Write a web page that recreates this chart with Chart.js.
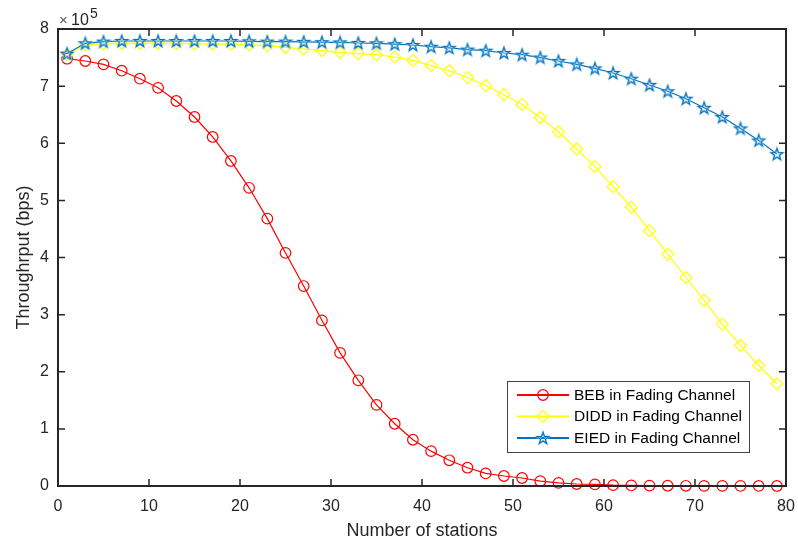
<!DOCTYPE html>
<html lang="en">
  <head>
    <meta charset="utf-8">
    <title>Throughput vs Number of stations</title>
    <script src="https://cdn.jsdelivr.net/npm/chart.js"></script>
    <style>
      html, body {
        margin: 0;
        padding: 0;
        background: #ffffff;
      }
      #chart-container {
        width: 798px;
        height: 542px;
      }
    </style>
  </head>
  <body>
    <div id="chart-container">
      <canvas id="myChart" width="798" height="542"></canvas>
    </div>

  <script>
      // x values (number of stations)
      const stations = [1, 3, 5, 7, 9, 11, 13, 15, 17, 19, 21, 23, 25, 27, 29, 31, 33, 35, 37, 39,
                        41, 43, 45, 47, 49, 51, 53, 55, 57, 59, 61, 63, 65, 67, 69, 71, 73, 75, 77, 79];

      // throughput in bps
      const beb = [748000, 744000, 738000, 727000, 713000, 697000, 674000, 646000, 611000, 569000,
                   522000, 468000, 408000, 350000, 290000, 233000, 185000, 142000, 109000, 81000,
                   61000, 45000, 32000, 22000, 17500, 14000, 8500, 5500, 3500, 2800,
                   1500, 1000, 700, 500, 350, 250, 180, 120, 90, 60];
      const didd = [756000, 772000, 774000, 775000, 775000, 775000, 775000, 774000, 773500, 773500,
                    772000, 771000, 768000, 765000, 762000, 759000, 757000, 755000, 751000, 745000,
                    736000, 727000, 715000, 701000, 685000, 668000, 645000, 620000, 590000, 559000,
                    524000, 488000, 447000, 406000, 365000, 325000, 283000, 246000, 211000, 179000];
      const eied = [757000, 775000, 778000, 779000, 779000, 779000, 779000, 779000, 779000, 779000,
                    778500, 778000, 778000, 777500, 777000, 776500, 775500, 775000, 773500, 772000,
                    769000, 767000, 764000, 762000, 758000, 755000, 750000, 744000, 738000, 731000,
                    723000, 713000, 702000, 691000, 678000, 662000, 646000, 626000, 605000, 581000];

      const seriesNames = ['BEB in Fading Channel', 'DIDD in Fading Channel', 'EIED in Fading Channel'];
      const xTicks = [0, 10, 20, 30, 40, 50, 60, 70, 80];
      const yTicks = [0, 1, 2, 3, 4, 5, 6, 7, 8]; // x 10^5

      const FONT = "'Liberation Sans', Arial, Helvetica, sans-serif";
      const AXIS = '#262626';

      // matlab-like pentagram marker
      function makeStar(color) {
          const c = document.createElement('canvas');
          c.width = 16;
          c.height = 16;
          const g = c.getContext('2d');
          g.beginPath();
          for (let i = 0; i < 10; i++) {
              const r = i % 2 ? 2.5 : 6.2;
              const a = -Math.PI / 2 + i * Math.PI / 5;
              g.lineTo(8 + r * Math.cos(a), 8.5 + r * Math.sin(a));
          }
          g.closePath();
          g.strokeStyle = '#a9d2ee';
          g.lineWidth = 2;
          g.stroke();
          g.strokeStyle = color;
          g.lineWidth = 1.1;
          g.stroke();
          return c;
      }
      const starImg = makeStar('#0072BD');

      function toPoints(ys) {
          return stations.map((x, i) => ({ x: x, y: ys[i] }));
      }

      const datasets = [
          {
              label: seriesNames[0],
              data: toPoints(beb),
              borderColor: '#FF0000',
              backgroundColor: 'rgba(0,0,0,0)',
              borderWidth: 1.2,
              pointStyle: 'circle',
              pointRadius: 5.3,
              pointBorderWidth: 1.2,
              order: 2
          },
          {
              label: seriesNames[1],
              data: toPoints(didd),
              borderColor: '#FFFF00',
              backgroundColor: 'rgba(0,0,0,0)',
              borderWidth: 1.2,
              pointStyle: 'rectRot',
              pointRadius: 6,
              pointBorderWidth: 1.2,
              order: 1
          },
          {
              label: seriesNames[2],
              data: toPoints(eied),
              borderColor: '#0072BD',
              backgroundColor: 'rgba(0,0,0,0)',
              borderWidth: 1.2,
              pointStyle: starImg,
              pointRadius: 6,
              order: 0
          }
      ];
      datasets.forEach(d => { d.clip = false; d.tension = 0; });

      // box, inward ticks, exponent and legend (matlab style)
      const matlabDecor = {
          id: 'matlabDecor',
          afterDraw(chart) {
              const c = chart.ctx;
              const a = chart.chartArea;
              const xs = chart.scales.x;
              const ys = chart.scales.y;
              const tl = 7;
              c.save();
              c.strokeStyle = AXIS;
              c.lineWidth = 1.5;
              c.beginPath();
              xTicks.forEach(v => {
                  const px = xs.getPixelForValue(v);
                  c.moveTo(px, a.bottom); c.lineTo(px, a.bottom - tl);
                  c.moveTo(px, a.top); c.lineTo(px, a.top + tl);
              });
              yTicks.forEach(v => {
                  const py = ys.getPixelForValue(v * 100000);
                  c.moveTo(a.left, py); c.lineTo(a.left + tl, py);
                  c.moveTo(a.right, py); c.lineTo(a.right - tl, py);
              });
              c.stroke();
              c.lineWidth = 2;
              c.strokeRect(a.left, a.top, a.right - a.left, a.bottom - a.top);

              // exponent label
              c.textBaseline = 'alphabetic';
              c.textAlign = 'left';
              c.font = '15px ' + FONT;
              c.fillStyle = '#555';
              c.fillText('\u00d7', a.left + 1, 25);
              c.fillStyle = AXIS;
              c.font = '16px ' + FONT;
              c.fillText('10', a.left + 13, 25);
              c.font = '14px ' + FONT;
              c.fillText('5', a.left + 32, 18);

              // legend
              const lx = 507, ly = 381, lw = 242, lh = 71;
              c.fillStyle = '#ffffff';
              c.fillRect(lx, ly, lw, lh);
              c.strokeStyle = '#444';
              c.lineWidth = 1;
              c.strokeRect(lx + 0.5, ly + 0.5, lw, lh);
              const rows = [395, 416.5, 438];
              chart.data.datasets.forEach((d, i) => {
                  const y = rows[i];
                  c.strokeStyle = d.borderColor;
                  c.lineWidth = 2;
                  c.beginPath();
                  c.moveTo(517, y); c.lineTo(569, y);
                  c.stroke();
                  c.fillStyle = 'rgba(0,0,0,0)';
                  c.lineWidth = d.pointBorderWidth || 1.2;
                  Chart.helpers.drawPoint(c, { pointStyle: d.pointStyle, radius: d.pointRadius, rotation: 0, borderWidth: c.lineWidth }, 543, y);
                  c.fillStyle = '#000';
                  c.font = '15.5px ' + FONT;
                  c.textBaseline = 'middle';
                  c.textAlign = 'left';
                  c.fillText(d.label, 574, y + 0.5);
              });
              c.restore();
          }
      };

      const ctx = document.getElementById('myChart').getContext('2d');
      const myChart = new Chart(ctx, {
          type: 'line',
          data: { datasets: datasets },
          options: {
              responsive: false,
              animation: false,
              devicePixelRatio: 1,
              layout: { padding: { left: 0, top: 29, right: 12, bottom: 0 } },
              plugins: {
                  legend: { display: false },
                  tooltip: { enabled: false }
              },
              scales: {
                  x: {
                      type: 'linear',
                      min: 0,
                      max: 80,
                      afterBuildTicks: s => { s.ticks = xTicks.map(v => ({ value: v })); },
                      ticks: { color: AXIS, font: { size: 16, family: FONT }, padding: 11, maxRotation: 0 },
                      grid: { display: false, drawTicks: false },
                      border: { display: false },
                      title: { display: true, text: 'Number of stations', color: AXIS,
                               font: { size: 18, family: FONT }, padding: { top: 2, bottom: 0 } },
                      afterFit: s => { s.height = 56; s.paddingLeft = 0; s.paddingRight = 0; }
                  },
                  y: {
                      min: 0,
                      max: 800000,
                      afterBuildTicks: s => { s.ticks = yTicks.map(v => ({ value: v * 100000 })); },
                      ticks: { color: AXIS, font: { size: 16, family: FONT }, padding: 9,
                               callback: v => String(v / 100000) },
                      grid: { display: false, drawTicks: false },
                      border: { display: false },
                      title: { display: true, text: 'Throughrput (bps)', color: AXIS,
                               font: { size: 18, family: FONT }, padding: { top: 13, bottom: 0 } },
                      afterFit: s => { s.width = 58; s.paddingTop = 0; s.paddingBottom = 0; }
                  }
              }
          },
          plugins: [matlabDecor]
      });
  </script>
  </body>
</html>
